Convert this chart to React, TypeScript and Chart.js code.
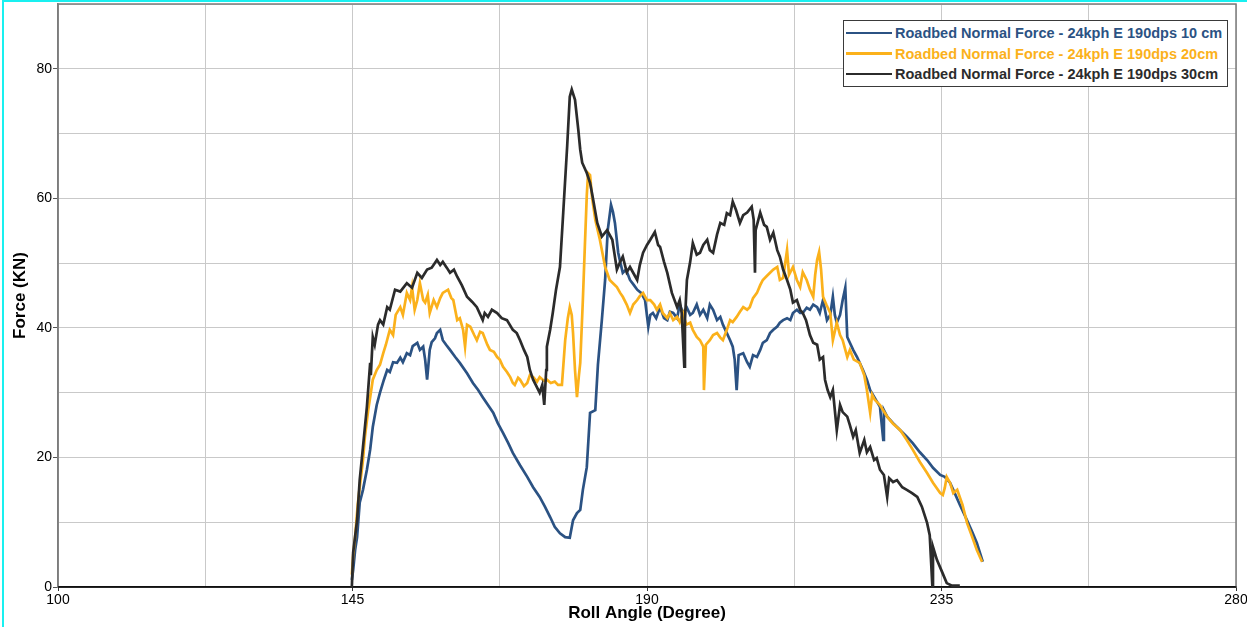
import React, { useEffect, useRef } from "react";
import { Chart, registerables } from "chart.js";

Chart.register(...registerables);

// ---- Data (Roll angle in degrees, normal force in kN) ----
const SERIES_LABELS = [
  "Roadbed Normal Force - 24kph E 190dps 10 cm",
  "Roadbed Normal Force - 24kph E 190dps 20cm",
  "Roadbed Normal Force - 24kph E 190dps 30cm",
];
const SERIES_COLORS = ["#2b5283", "#fbb11b", "#2b2b2b"];

const force10cm: [number, number][] = [
  [144.9, 1.1], [145.1, 2.6], [145.4, 5.7], [145.7, 7.7], [146.1, 13.0], [146.6, 15.0],
  [147.2, 18.1], [147.7, 21.2], [148.1, 24.7], [148.7, 28.1], [149.2, 30.0], [149.8, 32.0],
  [150.3, 33.5], [150.7, 33.2], [151.2, 34.7], [151.8, 34.6], [152.3, 35.4], [152.7, 34.7],
  [153.3, 36.1], [153.8, 35.8], [154.2, 37.2], [154.9, 37.7], [155.3, 36.6], [155.8, 37.1],
  [156.1, 35.1], [156.4, 32.0], [156.8, 36.6], [157.1, 37.8], [157.6, 38.4], [157.9, 39.2],
  [158.4, 39.7], [158.8, 38.1], [159.3, 37.4], [159.9, 36.6], [160.7, 35.5], [161.4, 34.6],
  [162.5, 33.0], [163.4, 31.5], [164.2, 30.4], [164.9, 29.3], [165.7, 28.1], [166.5, 26.9],
  [167.2, 25.3], [168.0, 23.8], [168.8, 22.2], [169.5, 20.7], [170.6, 18.8], [171.7, 17.0],
  [172.6, 15.4], [173.6, 13.9], [174.4, 12.4], [175.2, 10.8], [175.9, 9.3], [176.7, 8.3],
  [177.5, 7.7], [178.2, 7.6], [178.7, 10.3], [179.3, 11.4], [179.8, 11.9], [180.2, 15.0],
  [180.8, 18.5], [181.3, 26.9], [182.1, 27.3], [182.5, 34.3], [183.1, 41.2], [183.6, 47.4],
  [184.0, 55.1], [184.5, 59.0], [184.8, 57.9], [185.1, 56.2], [185.6, 51.6], [185.9, 50.2],
  [186.3, 48.5], [186.8, 49.0], [187.4, 47.4], [188.0, 46.6], [188.5, 45.9], [189.1, 45.4],
  [189.7, 44.3], [190.2, 40.2], [190.5, 42.0], [190.9, 42.3], [191.4, 41.5], [192.0, 43.2],
  [192.6, 41.5], [193.1, 41.2], [193.5, 42.5], [194.0, 42.3], [194.6, 41.5], [195.0, 43.6],
  [195.5, 42.3], [196.1, 43.1], [196.6, 42.0], [197.0, 42.3], [197.6, 43.6], [198.1, 42.0],
  [198.6, 42.8], [199.2, 41.5], [199.6, 43.6], [200.1, 42.8], [200.7, 41.2], [201.2, 41.7],
  [201.6, 40.5], [202.2, 39.2], [202.7, 38.1], [203.1, 37.1], [203.4, 35.1], [203.7, 30.4],
  [204.0, 35.8], [204.7, 36.1], [205.3, 34.7], [205.7, 34.0], [206.2, 35.8], [206.8, 35.5],
  [207.3, 36.6], [207.7, 37.7], [208.3, 38.1], [208.8, 39.2], [209.3, 39.7], [209.9, 40.2],
  [210.3, 40.8], [210.8, 41.2], [211.4, 41.5], [211.9, 41.2], [212.3, 42.3], [212.9, 42.8],
  [213.4, 42.3], [213.8, 42.3], [214.4, 43.1], [214.9, 42.8], [215.4, 43.6], [216.0, 43.2],
  [216.4, 42.3], [216.9, 44.3], [217.5, 41.2], [218.0, 42.0], [218.4, 44.8], [218.7, 42.0],
  [219.0, 40.8], [219.5, 42.0], [219.9, 44.3], [220.3, 46.2], [220.6, 38.6], [221.0, 37.7],
  [221.5, 36.6], [222.1, 35.5], [222.5, 34.6], [223.0, 33.5], [223.6, 32.0], [224.1, 30.4],
  [224.8, 29.2], [225.6, 27.8], [226.1, 22.7], [226.2, 27.3], [226.7, 26.3], [227.6, 25.3],
  [228.7, 24.2], [229.7, 23.2], [230.6, 22.2], [231.7, 20.8], [232.8, 19.6], [233.7, 18.4],
  [234.8, 17.3], [235.5, 17.0], [236.3, 16.1], [236.8, 15.0], [237.8, 12.7], [238.9, 10.3],
  [239.7, 8.5], [240.4, 6.8], [241.3, 3.9],
];

const force20cm: [number, number][] = [
  [144.9, 1.9], [145.1, 4.9], [145.4, 7.7], [145.8, 12.7], [146.1, 15.4], [146.6, 19.6],
  [146.9, 23.2], [147.4, 27.3], [147.7, 29.3], [148.1, 32.0], [148.7, 33.5], [149.2, 34.3],
  [149.7, 36.1], [150.1, 37.4], [150.7, 39.7], [151.2, 38.9], [151.6, 42.0], [152.3, 43.2],
  [152.7, 42.0], [153.3, 45.4], [153.8, 44.3], [154.1, 46.3], [154.5, 42.8], [154.9, 44.3],
  [155.3, 46.9], [155.8, 44.3], [156.1, 43.9], [156.5, 45.1], [156.8, 42.3], [157.4, 44.3],
  [157.9, 43.2], [158.4, 44.6], [158.8, 45.4], [159.6, 45.9], [160.1, 44.6], [160.4, 44.3],
  [161.0, 41.2], [161.4, 41.5], [161.9, 39.7], [162.2, 37.1], [162.5, 40.5], [163.0, 40.2],
  [163.6, 38.9], [164.0, 38.1], [164.5, 39.4], [164.9, 39.2], [165.6, 37.4], [166.0, 36.6],
  [166.6, 36.3], [167.1, 35.5], [167.5, 35.1], [168.0, 34.0], [168.6, 33.2], [169.1, 32.4],
  [169.5, 31.5], [169.8, 31.2], [170.3, 32.3], [170.6, 32.0], [171.2, 31.0], [171.7, 31.5],
  [172.1, 32.7], [172.6, 32.4], [173.2, 31.7], [173.6, 32.4], [174.3, 31.8], [174.7, 32.0],
  [175.3, 31.5], [175.9, 31.7], [176.4, 31.2], [177.0, 31.2], [177.5, 38.1], [177.9, 41.5],
  [178.2, 43.2], [178.5, 42.0], [178.7, 39.2], [179.0, 33.5], [179.3, 29.3], [179.6, 32.7],
  [179.8, 34.6], [180.2, 44.3], [180.5, 52.5], [180.8, 60.5], [181.0, 63.9], [181.3, 63.6],
  [181.6, 60.2], [182.1, 56.7], [182.8, 53.6], [183.6, 49.4], [184.3, 47.4], [184.8, 46.9],
  [185.4, 46.3], [185.9, 45.4], [186.3, 44.8], [186.9, 43.6], [187.4, 42.3], [187.9, 43.6],
  [188.5, 44.3], [188.9, 44.9], [189.4, 45.4], [190.0, 44.3], [190.5, 44.3], [191.1, 43.6],
  [191.5, 42.8], [192.0, 43.6], [192.4, 42.3], [193.1, 41.5], [193.5, 42.3], [194.0, 41.2],
  [194.6, 41.7], [195.0, 40.9], [195.5, 42.3], [196.0, 40.5], [196.6, 40.8], [197.0, 39.7],
  [197.6, 38.6], [198.1, 38.1], [198.6, 37.1], [198.7, 30.4], [199.0, 37.4], [199.6, 38.1],
  [200.1, 38.9], [200.7, 39.2], [201.2, 38.5], [201.6, 38.1], [202.2, 39.7], [202.7, 41.2],
  [203.1, 40.9], [203.7, 41.7], [204.2, 42.5], [204.7, 43.2], [205.3, 42.8], [205.7, 43.2],
  [206.2, 44.6], [206.8, 45.4], [207.3, 46.6], [207.7, 47.4], [208.3, 48.0], [208.8, 48.5],
  [209.3, 49.0], [209.9, 49.4], [210.3, 47.4], [210.8, 47.7], [211.4, 52.0], [211.7, 48.2],
  [212.3, 49.4], [212.9, 47.4], [213.4, 46.3], [213.8, 48.6], [214.4, 47.4], [214.9, 45.9],
  [215.4, 44.8], [215.7, 48.2], [216.0, 50.5], [216.3, 51.7], [216.6, 49.0], [216.9, 44.8],
  [217.4, 43.6], [218.0, 42.3], [218.4, 38.1], [219.0, 40.8], [219.5, 38.9], [219.9, 38.1],
  [220.6, 35.5], [221.0, 36.6], [221.6, 35.1], [222.5, 34.6], [223.2, 32.7], [223.6, 30.4],
  [224.1, 26.9], [224.4, 29.7], [224.8, 28.9], [225.6, 28.1], [226.7, 26.3], [227.6, 25.2],
  [228.7, 24.2], [229.7, 22.7], [230.6, 21.2], [231.7, 19.3], [232.8, 17.6], [233.7, 16.1],
  [234.8, 14.5], [235.2, 14.2], [235.5, 15.3], [235.8, 17.0], [236.3, 16.1], [236.8, 14.5],
  [237.4, 15.0], [238.2, 12.7], [238.9, 9.9], [239.7, 7.7], [240.4, 5.7], [241.2, 3.9],
];

const force30cm: [number, number][] = [
  [144.9, 0.0], [145.1, 5.3], [145.7, 10.3], [146.1, 16.5], [146.6, 21.6], [147.2, 27.8],
  [147.7, 34.6], [147.8, 32.7], [148.1, 38.6], [148.4, 37.4], [148.9, 40.5], [149.2, 41.2],
  [149.7, 40.5], [150.3, 43.2], [150.7, 42.8], [151.5, 45.9], [152.3, 45.6], [153.3, 46.9],
  [154.1, 46.2], [154.9, 48.5], [155.6, 47.7], [156.4, 49.0], [157.1, 49.3], [157.9, 50.5],
  [158.4, 49.7], [158.8, 50.2], [159.4, 49.3], [159.9, 48.5], [160.5, 49.0], [161.0, 47.9],
  [161.7, 46.6], [162.5, 44.8], [163.3, 44.0], [164.0, 43.2], [164.9, 41.2], [165.2, 42.3],
  [165.7, 41.7], [166.3, 42.8], [167.1, 42.3], [167.8, 41.5], [168.6, 41.2], [169.5, 39.7],
  [170.1, 39.2], [170.6, 38.1], [171.2, 36.6], [171.7, 35.5], [172.1, 33.5], [172.6, 32.0],
  [173.0, 31.2], [173.6, 30.0], [174.0, 31.2], [174.3, 28.1], [174.6, 33.5], [174.7, 37.1],
  [175.2, 39.7], [175.6, 42.3], [176.1, 45.9], [176.7, 49.4], [177.2, 57.8], [177.8, 68.0],
  [178.2, 75.7], [178.5, 76.8], [179.0, 75.2], [179.5, 70.6], [179.8, 67.5], [180.1, 65.5],
  [180.8, 63.9], [181.3, 62.4], [181.6, 60.8], [182.4, 56.2], [183.1, 54.1], [183.9, 55.1],
  [184.7, 53.6], [185.4, 49.0], [185.9, 50.2], [186.3, 51.0], [186.9, 48.6], [187.4, 49.4],
  [188.5, 47.4], [188.9, 49.7], [189.4, 51.6], [190.0, 52.8], [190.5, 53.6], [191.2, 54.8],
  [191.7, 52.8], [192.0, 52.5], [192.6, 50.2], [193.1, 48.5], [193.8, 45.4], [194.6, 43.2],
  [195.0, 44.3], [195.3, 42.3], [195.7, 34.0], [195.8, 41.2], [196.1, 47.4], [196.6, 50.2],
  [197.0, 53.1], [197.6, 51.3], [198.1, 51.6], [198.6, 52.8], [199.2, 53.6], [199.6, 52.0],
  [200.1, 51.6], [200.7, 54.4], [201.2, 56.2], [201.8, 55.9], [202.2, 57.7], [202.7, 57.4],
  [203.1, 59.5], [203.6, 58.2], [204.2, 56.2], [204.7, 57.4], [205.3, 57.8], [206.0, 58.7],
  [206.3, 56.7], [206.5, 48.5], [206.6, 55.1], [207.3, 57.8], [207.9, 55.9], [208.3, 55.6],
  [208.8, 53.6], [209.3, 54.7], [209.9, 52.0], [210.3, 51.0], [210.8, 49.0], [211.4, 47.4],
  [211.9, 45.9], [212.3, 43.9], [212.9, 44.3], [213.4, 42.8], [213.8, 42.3], [214.3, 41.2],
  [214.9, 38.9], [215.4, 37.7], [216.0, 37.4], [216.4, 35.1], [216.9, 35.5], [217.2, 32.0],
  [217.6, 30.4], [218.0, 29.3], [218.4, 30.4], [219.0, 24.2], [219.5, 28.1], [219.9, 27.0],
  [220.6, 26.3], [221.0, 25.0], [221.5, 23.2], [221.9, 24.2], [222.5, 20.7], [223.2, 22.7],
  [223.6, 20.8], [224.1, 21.6], [224.7, 19.6], [225.1, 19.9], [225.6, 18.1], [226.2, 17.3],
  [226.7, 13.9], [227.0, 16.8], [227.6, 16.2], [228.2, 16.5], [229.0, 15.4], [229.7, 15.0],
  [230.5, 14.5], [231.3, 13.9], [232.0, 12.4], [232.8, 9.9], [233.2, 8.0], [233.6, 0.2],
  [233.7, 6.2], [234.3, 4.2], [235.1, 2.3], [235.8, 0.6], [236.6, 0.2], [237.8, 0.2],
];

const SERIES_DATA = [force10cm, force20cm, force30cm];
const SERIES_ORDER = [2, 1, 0]; // 30cm drawn on top

const X_MIN = 100;
const X_MAX = 280;
const X_GRID_STEP = 22.5;
const X_LABEL_STEP = 45;
const Y_MIN = 0;
const Y_MAX = 90;
const Y_GRID_STEP = 10;
const Y_LABEL_STEP = 20;

const X_TITLE = "Roll Angle (Degree)";
const Y_TITLE = "Force (KN)";

const FONT = "'Liberation Sans', Arial, sans-serif";

const isLabelX = (v: number) => {
  const k = (v - X_MIN) / X_LABEL_STEP;
  return Math.abs(k - Math.round(k)) < 1e-6;
};
const isLabelY = (v: number) => {
  const k = (v - Y_MIN) / Y_LABEL_STEP;
  return Math.abs(k - Math.round(k)) < 1e-6;
};

const framePlugin = {
  id: "plotFrame",
  beforeDatasetsDraw(chart: any) {
    const { ctx, chartArea: a } = chart;
    ctx.save();
    ctx.strokeStyle = "#7c7c7c";
    ctx.lineWidth = 1.5;
    ctx.beginPath();
    ctx.moveTo(a.left, a.bottom);
    ctx.lineTo(a.left, a.top);
    ctx.lineTo(a.right, a.top);
    ctx.lineTo(a.right, a.bottom);
    ctx.stroke();
    ctx.beginPath();
    ctx.strokeStyle = "#111";
    ctx.moveTo(a.left, a.bottom);
    ctx.lineTo(a.right, a.bottom);
    ctx.stroke();
    ctx.restore();
  },
};

export default function App() {
  const canvasRef = useRef<HTMLCanvasElement | null>(null);

  useEffect(() => {
    if (!canvasRef.current) return;
    const chart = new Chart(canvasRef.current, {
      type: "line",
      data: {
        datasets: SERIES_DATA.map((s, i) => ({
          label: SERIES_LABELS[i],
          data: s.map(([x, y]) => ({ x, y })),
          borderColor: SERIES_COLORS[i],
          backgroundColor: SERIES_COLORS[i],
          borderWidth: 2.7,
          pointRadius: 0,
          tension: 0,
          fill: false,
          order: SERIES_ORDER[i],
        })),
      },
      options: {
        responsive: false,
        animation: false,
        devicePixelRatio: 1,
        layout: { padding: { top: 4, right: 11, left: 0, bottom: 0 } },
        plugins: {
          legend: { display: false },
          tooltip: { enabled: false },
        },
        scales: {
          x: {
            type: "linear",
            min: X_MIN,
            max: X_MAX,
            afterFit: (s: any) => {
              s.height = 40;
              s.paddingLeft = 0;
              s.paddingRight = 0;
            },
            ticks: {
              stepSize: X_GRID_STEP,
              autoSkip: false,
              maxRotation: 0,
              padding: 1,
              color: "#000",
              font: { family: FONT, size: 14 },
              callback: (v: any) => (isLabelX(Number(v)) ? String(v) : ""),
            },
            grid: {
              color: "#c9c9c9",
              lineWidth: 1,
              tickLength: 4,
              tickColor: (c: any) => (c.tick && isLabelX(c.tick.value) ? "#333" : "rgba(0,0,0,0)"),
            },
            border: { color: "#111", width: 1.5 },
            title: {
              display: true,
              text: X_TITLE,
              color: "#000",
              font: { family: FONT, size: 17, weight: "bold" },
              padding: { top: 0, bottom: 3 },
            },
          },
          y: {
            type: "linear",
            min: Y_MIN,
            max: Y_MAX,
            afterFit: (s: any) => {
              s.width = 58;
              s.paddingTop = 0;
              s.paddingBottom = 0;
            },
            ticks: {
              stepSize: Y_GRID_STEP,
              autoSkip: false,
              padding: 1,
              color: "#000",
              font: { family: FONT, size: 14 },
              callback: (v: any) => (isLabelY(Number(v)) ? String(v) : ""),
            },
            grid: {
              color: "#c9c9c9",
              lineWidth: 1,
              tickLength: 5,
              tickColor: (c: any) => (c.tick && isLabelY(c.tick.value) ? "#555" : "rgba(0,0,0,0)"),
            },
            border: { color: "#7c7c7c", width: 1.5 },
            title: {
              display: true,
              text: Y_TITLE,
              color: "#000",
              font: { family: FONT, size: 17, weight: "bold" },
              padding: { top: 10, bottom: 0 },
            },
          },
        },
      },
      plugins: [framePlugin],
    } as any);
    return () => chart.destroy();
  }, []);

  return (
    <div
      style={{
        position: "absolute",
        left: 0,
        top: 0,
        width: 1247,
        height: 627,
        background: "#fff",
        overflow: "hidden",
        fontFamily: FONT,
      }}
    >
      <canvas ref={canvasRef} width={1247} height={627} style={{ display: "block" }} />
      <div
        style={{
          position: "absolute",
          left: 2,
          top: 0,
          width: 1245,
          height: 627,
          borderLeft: "2px solid #19f0f0",
          borderTop: "2px solid #19f0f0",
          boxSizing: "border-box",
          pointerEvents: "none",
        }}
      />
      <div
        style={{
          position: "absolute",
          left: 843,
          top: 20,
          width: 385,
          height: 67,
          boxSizing: "border-box",
          border: "1px solid #3a3a3a",
          background: "#fff",
        }}
      >
        {SERIES_LABELS.map((label, i) => (
          <div
            key={label}
            style={{
              position: "absolute",
              left: 2,
              top: 2 + i * 20.5,
              height: 20,
              display: "flex",
              alignItems: "center",
              whiteSpace: "nowrap",
            }}
          >
            <div style={{ width: 46, height: 2.5, background: SERIES_COLORS[i] }} />
            <span
              style={{
                marginLeft: 3,
                color: SERIES_COLORS[i],
                fontWeight: "bold",
                fontSize: 14.5,
                lineHeight: "20px",
              }}
            >
              {label}
            </span>
          </div>
        ))}
      </div>
    </div>
  );
}
